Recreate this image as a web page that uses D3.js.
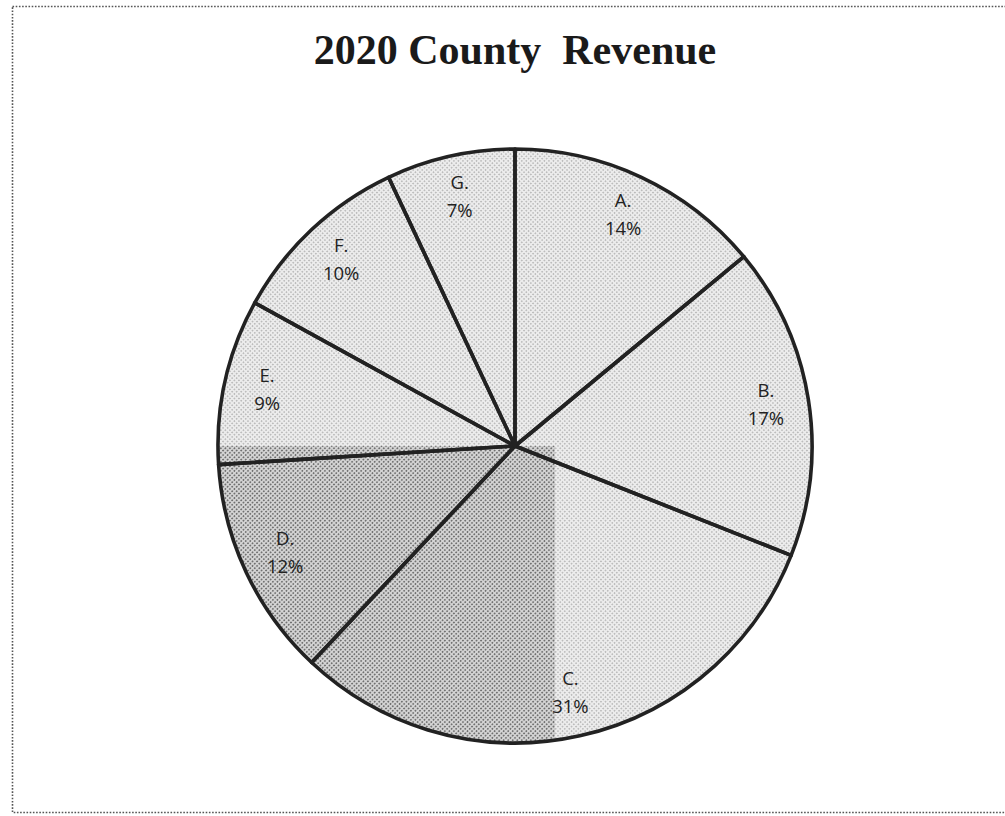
<!DOCTYPE html>
<html>
<head>
<meta charset="utf-8">
<script src="https://cdn.jsdelivr.net/npm/d3@7/dist/d3.min.js"></script>
<style>
  html, body { margin: 0; padding: 0; background: #fff; }
  svg { display: block; }
</style>
</head>
<body>
<svg id="chart" width="1005" height="816"></svg>
<script>
// Revenue shares by source, clockwise from 12 o'clock
const categories = ["A.", "B.", "C.", "D.", "E.", "F.", "G."];
const shares = [14, 17, 31, 12, 9, 10, 7];
const titleText = "2020 County\u00a0\u00a0Revenue";

const W = 1005, H = 816;
const cx = 515, cy = 446, R = 297, labelR = 254;

const svg = d3.select("#chart");
const defs = svg.append("defs");

// Halftone screens used for the slice fills
function screen(id, bg, dot, size, r) {
  const p = defs.append("pattern")
    .attr("id", id)
    .attr("patternUnits", "userSpaceOnUse")
    .attr("width", size).attr("height", size)
    .attr("patternTransform", "rotate(45)");
  p.append("rect").attr("width", size).attr("height", size).attr("fill", bg);
  p.append("circle").attr("cx", size / 2).attr("cy", size / 2).attr("r", r).attr("fill", dot);
}
screen("lightScreen", "#ececec", "#a8a8a8", 3.2, 0.75);
screen("darkScreen", "#d6d6d6", "#6e6e6e", 3.2, 0.95);

// Darker screen covers the lower-left quarter of the pie
defs.append("clipPath").attr("id", "lowerLeft")
  .append("rect")
  .attr("x", 0).attr("y", cy)
  .attr("width", 555).attr("height", H - cy);

// Dotted frame
svg.append("rect")
  .attr("x", 12.5).attr("y", 6.5)
  .attr("width", 1000).attr("height", 806)
  .attr("fill", "none")
  .attr("stroke", "#555")
  .attr("stroke-width", 1.6)
  .attr("stroke-dasharray", "1.6 1.6");

// Title
svg.append("text")
  .attr("x", cx).attr("y", 64)
  .attr("text-anchor", "middle")
  .attr("font-family", "'Liberation Serif', 'Times New Roman', serif")
  .attr("font-weight", "bold")
  .attr("font-size", 42)
  .attr("fill", "#1a1a1a")
  .text(titleText);

const data = categories.map((c, i) => ({ cat: c, value: shares[i] }));
const pie = d3.pie().value(d => d.value).sort(null).startAngle(0).endAngle(2 * Math.PI);
const arcs = pie(data);
const arc = d3.arc().innerRadius(0).outerRadius(R);
const labelArc = d3.arc().innerRadius(labelR).outerRadius(labelR);

const g = svg.append("g").attr("transform", `translate(${cx},${cy})`);

// Light base fill
g.selectAll("path.base")
  .data(arcs).join("path")
  .attr("class", "base")
  .attr("d", arc)
  .attr("fill", "url(#lightScreen)");

// Darker overlay, clipped (clip rect is in page coordinates)
svg.append("g").attr("clip-path", "url(#lowerLeft)")
  .append("g").attr("transform", `translate(${cx},${cy})`)
  .selectAll("path")
  .data(arcs).join("path")
  .attr("d", arc)
  .attr("fill", "url(#darkScreen)");

// Outlines
svg.append("g").attr("transform", `translate(${cx},${cy})`)
  .selectAll("path")
  .data(arcs).join("path")
  .attr("d", arc)
  .attr("fill", "none")
  .attr("stroke", "#222")
  .attr("stroke-width", 3.6)
  .attr("stroke-linejoin", "round");

// Category and percentage labels
const labels = svg.append("g").attr("transform", `translate(${cx},${cy})`)
  .selectAll("text")
  .data(arcs).join("text")
  .attr("transform", d => `translate(${labelArc.centroid(d)})`)
  .attr("text-anchor", "middle")
  .attr("font-family", "'Open Sans', 'Liberation Sans', sans-serif")
  .attr("font-size", 18.5)
  .attr("fill", "#222");
labels.append("tspan").attr("x", 0).attr("y", -9).text(d => d.data.cat);
labels.append("tspan").attr("x", 0).attr("y", 19).text(d => d.data.value + "%");
</script>
</body>
</html>
